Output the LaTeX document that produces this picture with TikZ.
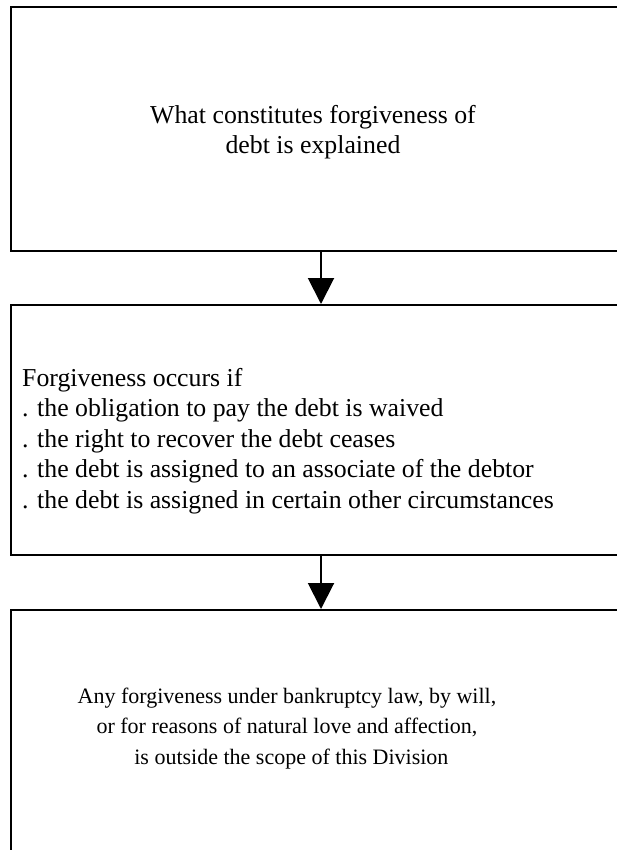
\documentclass[tikz,border=0pt]{standalone}
\usepackage{fontspec}
\setmainfont{Liberation Serif}
\usetikzlibrary{arrows.meta}
\begin{document}
\begin{tikzpicture}[x=1pt,y=-1pt,
  panel/.style={draw=black, line width=2pt, rectangle, inner sep=0pt, anchor=north west},
  txt/.style={inner sep=0pt, font=\fontsize{25.8}{30.5}\selectfont},
  smalltxt/.style={inner sep=0pt, font=\fontsize{22}{30.5}\selectfont},
  flow/.style={draw=black, line width=2pt, -{Triangle[width=26pt,length=26pt]}}]
  \useasboundingbox (0,0) rectangle (617,850);
  \clip (0,0) rectangle (617,850);
  \fill[white] (0,0) rectangle (617,850);

  % three stacked panels, running off the right and bottom edges
  \node[panel, minimum width=614pt, minimum height=244pt] (box1) at (10,6) {};
  \node[panel, minimum width=614pt, minimum height=250pt] (box2) at (10,304) {};
  \node[panel, minimum width=614pt, minimum height=300pt] (box3) at (10,609) {};

  % panel texts (base anchor sits on the last line)
  \node[txt, align=center, anchor=base] (t1) at (313,154)
    {What constitutes forgiveness of\\debt is explained};
  \node[txt, align=left, anchor=base west] (t2) at (22,508)
    {Forgiveness occurs if\\
     . the obligation to pay the debt is waived\\
     . the right to recover the debt ceases\\
     . the debt is assigned to an associate of the debtor\\
     . the debt is assigned in certain other circumstances};
  \node[smalltxt, align=center, anchor=base] (t3) at (287,764)
    {Any forgiveness under bankruptcy law, by will,\\
     or for reasons of natural love and affection,\\
     \hspace*{0.4em}is outside the scope of this Division};

  % connectors
  \coordinate (ax) at (321,0);
  \draw[flow] (ax |- box1.south) -- (ax |- box2.north);
  \draw[flow] (ax |- box2.south) -- (ax |- box3.north);
\end{tikzpicture}
\end{document}
